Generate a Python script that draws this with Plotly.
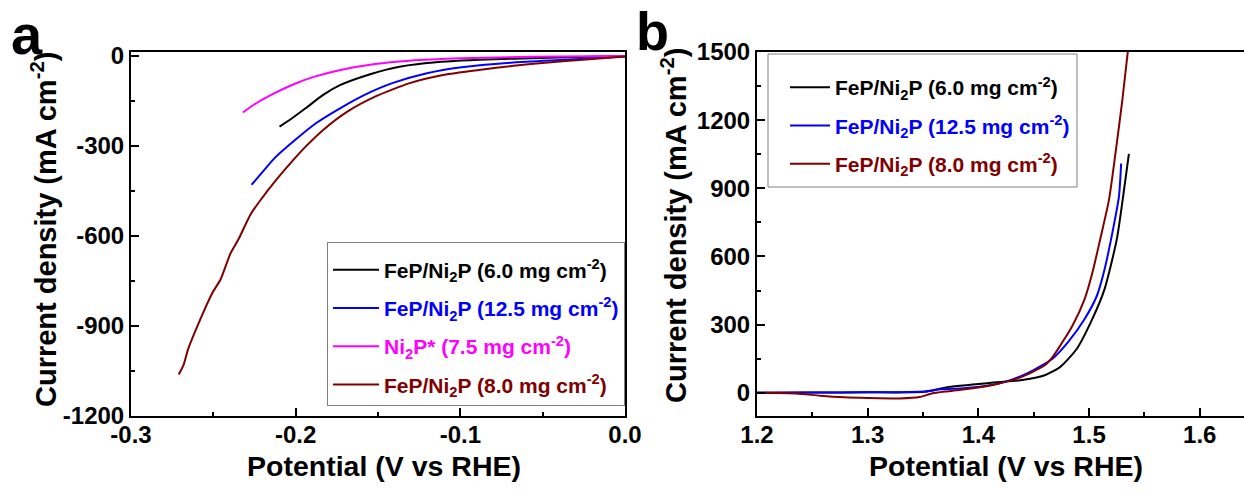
import plotly.graph_objects as go

# ---------------- data: panel a (HER polarization) ----------------
her_v_60 = [-0.2098, -0.2022, -0.1938, -0.1833, -0.1728, -0.1581, -0.1413, -0.1203, -0.0887, -0.0467, 0.0]
her_j_60 = [-236, -208, -174, -130, -97, -67, -41, -24, -13, -6, 0]

her_v_125 = [-0.2268, -0.2233, -0.2128, -0.2002, -0.1875, -0.1728, -0.1581, -0.1413, -0.1203, -0.0992, -0.0677, -0.0362, 0.0]
her_j_125 = [-430, -408, -341, -280, -224, -174, -130, -91, -58, -38, -22, -13, -2]

her_v_ni2p = [-0.2321, -0.2254, -0.2149, -0.2022, -0.1896, -0.1728, -0.1518, -0.1308, -0.0992, -0.0572, 0.0]
her_j_ni2p = [-189, -163, -130, -97, -71, -47, -27, -16, -8, -3, 0]

her_v_80 = [-0.2710, -0.2680, -0.2654, -0.2580, -0.2506, -0.2457, -0.2395, -0.2348, -0.2275, -0.2212,
            -0.2117, -0.2022, -0.1938, -0.1833, -0.1686, -0.1518, -0.1308, -0.1097, -0.0887, -0.0677,
            -0.0467, -0.0257, 0.0]
her_j_80 = [-1063, -1030, -980, -880, -791, -747, -658, -613, -530, -480,
            -413, -352, -302, -247, -186, -136, -91, -63, -47, -33,
            -22, -13, -2]

# ---------------- data: panel b (OER polarization) ----------------
oer_v_60 = [1.20, 1.25, 1.30, 1.351, 1.373, 1.395, 1.416, 1.438, 1.46, 1.474, 1.489, 1.503, 1.514, 1.525, 1.532, 1.536]
oer_j_60 = [0, 1, 2, 4, 26, 36, 46, 55, 77, 114, 194, 325, 456, 674, 907, 1052]

oer_v_125 = [1.20, 1.25, 1.30, 1.351, 1.366, 1.387, 1.409, 1.424, 1.445, 1.467, 1.481, 1.496, 1.507, 1.514, 1.521, 1.527, 1.529]
oer_j_125 = [0, 1, 2, 6, 15, 20, 32, 48, 88, 150, 223, 325, 426, 543, 703, 863, 1009]

oer_v_80 = [1.20, 1.235, 1.257, 1.279, 1.30, 1.329, 1.347, 1.358, 1.373, 1.395, 1.416, 1.438, 1.46,
            1.467, 1.474, 1.485, 1.496, 1.503, 1.51, 1.518, 1.525, 1.53, 1.535]
oer_j_80 = [0, -3, -13, -20, -23, -25, -19, -3, 7, 20, 38, 68, 121,
            157, 208, 295, 412, 528, 674, 849, 1096, 1285, 1500]

# ---------------- tick labels ----------------
a_xticks = [-0.3, -0.2, -0.1, 0.0]
a_xticktext = ["-0.3", "-0.2", "-0.1", "0.0"]
a_yticks = [0, -300, -600, -900, -1200]
a_yticktext = ["0", "-300", "-600", "-900", "-1200"]
b_xticks = [1.2, 1.3, 1.4, 1.5, 1.6]
b_xticktext = ["1.2", "1.3", "1.4", "1.5", "1.6"]
b_yticks = [0, 300, 600, 900, 1200, 1500]
b_yticktext = ["0", "300", "600", "900", "1200", "1500"]

C_BLACK = "#000000"
C_BLUE = "#0000FF"
C_MAG = "#FF00FF"
C_RED = "#800000"
FONT = "Liberation Sans"


def lab(text, color):
    return f'<span style="color:{color}">{text}</span>'


N60 = "FeP/Ni<sub>2</sub>P (6.0 mg cm<sup>-2</sup>)"
N125 = "FeP/Ni<sub>2</sub>P (12.5 mg cm<sup>-2</sup>)"
NNI = "Ni<sub>2</sub>P* (7.5 mg cm<sup>-2</sup>)"
N80 = "FeP/Ni<sub>2</sub>P (8.0 mg cm<sup>-2</sup>)"

fig = go.Figure()

line_kw = dict(width=2, shape="spline", smoothing=0.6)

# panel a
for v, j, c, n, g in [
    (her_v_60, her_j_60, C_BLACK, N60, "a1"),
    (her_v_125, her_j_125, C_BLUE, N125, "a2"),
    (her_v_ni2p, her_j_ni2p, C_MAG, NNI, "a3"),
    (her_v_80, her_j_80, C_RED, N80, "a4"),
]:
    fig.add_trace(go.Scatter(x=v, y=j, mode="lines", line=dict(color=c, **line_kw),
                             name=lab(n, c), xaxis="x", yaxis="y", legend="legend",
                             legendgroup=g))

# panel b
for v, j, c, n, g in [
    (oer_v_60, oer_j_60, C_BLACK, N60, "b1"),
    (oer_v_125, oer_j_125, C_BLUE, N125, "b2"),
    (oer_v_80, oer_j_80, C_RED, N80, "b3"),
]:
    fig.add_trace(go.Scatter(x=v, y=j, mode="lines", line=dict(color=c, **line_kw),
                             name=lab(n, c), xaxis="x2", yaxis="y2", legend="legend2",
                             legendgroup=g))

W, H = 1244, 495
ax_common = dict(showline=True, linecolor="black", linewidth=2, ticks="inside", ticklen=8,
                 tickwidth=2, tickcolor="black", showgrid=False, zeroline=False,
                 tickfont=dict(family=FONT, size=24, color="black", weight="bold"))
minor_kw = dict(ticks="inside", ticklen=4, tickwidth=2, tickcolor="black")

ydom = [1 - 415.5 / H, 1 - 52 / H]

fig.update_layout(
    width=W, height=H, template="none",
    paper_bgcolor="white", plot_bgcolor="white",
    margin=dict(l=0, r=0, t=0, b=0),
    font=dict(family=FONT, color="black"),
    xaxis=dict(domain=[131 / W, 625 / W], range=[-0.3, 0.0], tickvals=a_xticks, ticktext=a_xticktext,
               mirror=True, anchor="y", ticklabelstandoff=-3,
               minor=dict(dtick=0.05, tick0=0, **minor_kw), **ax_common),
    yaxis=dict(domain=ydom, range=[-1200, 13], tickvals=a_yticks, ticktext=a_yticktext,
               mirror=True, anchor="x", minor=dict(dtick=150, tick0=0, **minor_kw), **ax_common),
    xaxis2=dict(domain=[757 / W, 1.0], range=[1.2, 1.64], tickvals=b_xticks, ticktext=b_xticktext,
                mirror=True, anchor="y2", ticklabelstandoff=-3,
                minor=dict(dtick=0.05, tick0=0, **minor_kw), **ax_common),
    yaxis2=dict(domain=ydom, range=[-100, 1500], tickvals=b_yticks, ticktext=b_yticktext,
                mirror=False, anchor="x2", minor=dict(dtick=150, tick0=0, **minor_kw), **ax_common),
    legend=dict(x=327 / W, y=1 - 242 / H, xanchor="left", yanchor="top",
                bgcolor="rgba(255,255,255,0)", bordercolor="#808080", borderwidth=1,
                font=dict(family=FONT, size=21, color="black", weight="bold"),
                title=dict(text=" ", font=dict(size=5)),
                tracegroupgap=8, itemwidth=46),
    legend2=dict(x=785 / W, y=1 - 54 / H, xanchor="left", yanchor="top",
                 bgcolor="rgba(255,255,255,0)", bordercolor="rgba(0,0,0,0)", borderwidth=0,
                 font=dict(family=FONT, size=21, color="black", weight="bold"),
                 title=dict(text=" ", font=dict(size=10)),
                 tracegroupgap=8, itemwidth=40),
    shapes=[dict(type="rect", xref="paper", yref="paper",
                 x0=768 / W, x1=1077 / W, y0=1 - 187 / H, y1=1 - 54 / H,
                 line=dict(color="#808080", width=1), fillcolor="rgba(0,0,0,0)")],
)

title_font = dict(family=FONT, size=29, color="black", weight="bold")
xt_font = dict(family=FONT, size=28.5, color="black", weight="bold")
annots = [
    dict(text="Current density (mA cm<sup>-2</sup>)", x=44 / W, y=1 - 230 / H, textangle=-90,
         font=title_font),
    dict(text="Current density (mA cm<sup>-2</sup>)", x=674 / W, y=1 - 226 / H, textangle=-90,
         font=title_font),
    dict(text="Potential (V vs RHE)", x=384 / W, y=1 - 466 / H, font=xt_font),
    dict(text="Potential (V vs RHE)", x=1006 / W, y=1 - 466 / H, font=xt_font),
    dict(text="a", x=27 / W, y=1 - 34 / H, font=dict(family=FONT, size=56, color="black", weight="bold")),
    dict(text="b", x=652 / W, y=1 - 31 / H, font=dict(family=FONT, size=54, color="black", weight="bold")),
]
for a in annots:
    fig.add_annotation(xref="paper", yref="paper", showarrow=False, xanchor="center", yanchor="middle", **a)

fig.write_html("out.html", config={"displayModeBar": False},
               post_script="document.body.style.margin='0px';document.body.style.padding='0px';")
